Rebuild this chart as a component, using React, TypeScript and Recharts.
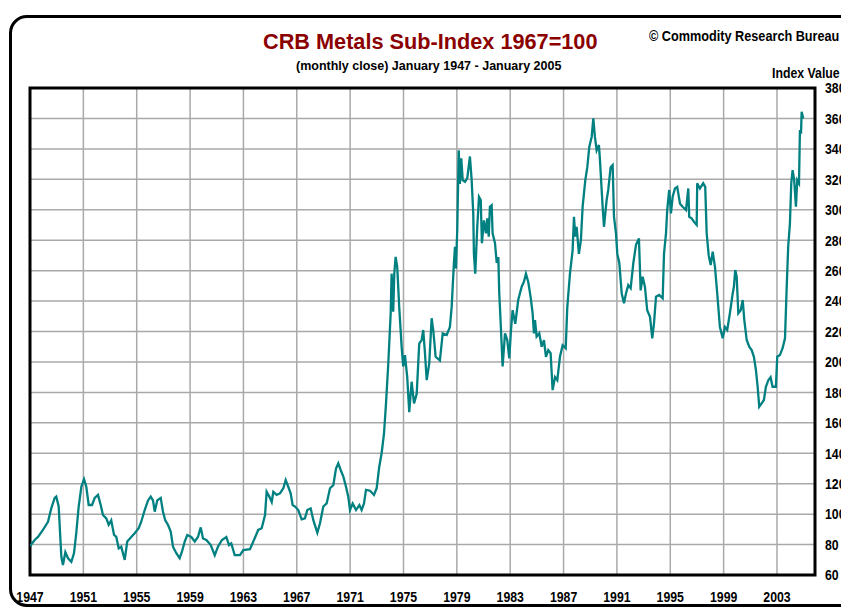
import { LineChart, Line, XAxis, YAxis, CartesianGrid, ReferenceArea } from 'recharts';

// monthly close (decimal year -> index value, 1967=100)
const years = [
  1947.0, 1947.35, 1947.6, 1947.97, 1948.35, 1948.6, 1948.85, 1948.97, 1949.15, 1949.35, 1949.47, 1949.65, 1949.85,
  1950.1, 1950.3, 1950.47, 1950.65, 1950.85, 1951.05, 1951.22, 1951.4, 1951.65, 1951.85, 1952.1, 1952.3, 1952.47,
  1952.72, 1952.9, 1953.09, 1953.3, 1953.47, 1953.65, 1953.84, 1954.1, 1954.29, 1954.59, 1954.85, 1955.15, 1955.34,
  1955.6, 1955.85, 1956.05, 1956.22, 1956.35, 1956.54, 1956.8, 1956.97, 1957.14, 1957.34, 1957.55, 1957.72, 1957.97,
  1958.22, 1958.39, 1958.6, 1958.79, 1959.09, 1959.35, 1959.59, 1959.8, 1959.97, 1960.22, 1960.55, 1960.85, 1961.09,
  1961.39, 1961.72, 1961.92, 1962.09, 1962.35, 1962.74, 1962.99, 1963.49, 1963.74, 1964.11, 1964.37, 1964.62, 1964.74,
  1964.94, 1965.12, 1965.24, 1965.49, 1965.74, 1965.99, 1966.17, 1966.36, 1966.54, 1966.69, 1966.87, 1967.11, 1967.37,
  1967.61, 1967.79, 1968.04, 1968.24, 1968.54, 1968.74, 1968.99, 1969.24, 1969.49, 1969.74, 1969.94, 1970.11, 1970.29,
  1970.49, 1970.69, 1970.86, 1970.99, 1971.19, 1971.44, 1971.69, 1971.86, 1972.04, 1972.19, 1972.49, 1972.79, 1972.99,
  1973.18, 1973.36, 1973.54, 1973.69, 1973.86, 1974.04, 1974.11, 1974.23, 1974.31, 1974.41, 1974.53, 1974.68, 1974.86,
  1974.98, 1975.11, 1975.28, 1975.43, 1975.61, 1975.79, 1975.99, 1976.18, 1976.36, 1976.48, 1976.61, 1976.74, 1976.93,
  1977.11, 1977.23, 1977.41, 1977.73, 1977.94, 1978.24, 1978.48, 1978.61, 1978.78, 1978.86, 1978.93, 1979.03, 1979.14,
  1979.23, 1979.33, 1979.44, 1979.61, 1979.78, 1979.98, 1980.11, 1980.23, 1980.28, 1980.38, 1980.53, 1980.66, 1980.79,
  1980.88, 1981.03, 1981.18, 1981.28, 1981.39, 1981.48, 1981.61, 1981.68, 1981.86, 1981.99, 1982.11, 1982.18, 1982.31,
  1982.43, 1982.61, 1982.78, 1982.93, 1983.06, 1983.18, 1983.38, 1983.6, 1983.86, 1984.03, 1984.18, 1984.35, 1984.53,
  1984.68, 1984.78, 1984.86, 1984.98, 1985.18, 1985.36, 1985.53, 1985.68, 1985.85, 1986.03, 1986.18, 1986.36, 1986.53,
  1986.73, 1986.93, 1987.16, 1987.28, 1987.48, 1987.68, 1987.78, 1987.88, 1987.98, 1988.15, 1988.3, 1988.43, 1988.63,
  1988.78, 1988.93, 1989.11, 1989.23, 1989.35, 1989.48, 1989.65, 1989.73, 1989.83, 1989.93, 1990.03, 1990.23, 1990.35,
  1990.53, 1990.68, 1990.78, 1990.93, 1991.03, 1991.18, 1991.36, 1991.53, 1991.68, 1991.85, 1992.03, 1992.23, 1992.43,
  1992.65, 1992.78, 1992.93, 1993.1, 1993.27, 1993.48, 1993.65, 1993.78, 1993.93, 1994.17, 1994.43, 1994.53, 1994.68,
  1994.77, 1994.92, 1995.05, 1995.18, 1995.35, 1995.52, 1995.73, 1995.93, 1996.18, 1996.35, 1996.42, 1996.6, 1996.78,
  1996.98, 1997.02, 1997.22, 1997.47, 1997.62, 1997.73, 1997.88, 1998.03, 1998.18, 1998.35, 1998.52, 1998.72, 1998.93,
  1999.1, 1999.27, 1999.47, 1999.68, 1999.77, 1999.87, 1999.98, 2000.1, 2000.28, 2000.43, 2000.55, 2000.73, 2000.92,
  2001.1, 2001.27, 2001.42, 2001.55, 2001.67, 2001.85, 2002.02, 2002.17, 2002.35, 2002.52, 2002.67, 2002.92, 2003.02,
  2003.22, 2003.42, 2003.6, 2003.72, 2003.84, 2003.97, 2004.07, 2004.17, 2004.29, 2004.42, 2004.52, 2004.65, 2004.72,
  2004.8, 2004.85, 2004.97,
];

const closes = [
  79, 83, 85, 89.6, 95, 104, 110.6, 111.5, 105, 72, 66.6, 75, 71,
  68.7, 74.4, 87.6, 105, 118, 123, 118, 106, 106, 110.6, 112.6, 106, 99.4,
  97.2, 93, 96, 86.3, 85, 77.5, 78.6, 69.9, 82, 85, 87.4, 90.7, 95,
  102.7, 109, 111.5, 109, 101.6, 109, 110.6, 101.6, 96, 93, 88.5, 78.6, 74.3,
  71, 75.3, 82, 86.3, 85, 82, 85, 91.3, 84, 83, 79.7, 73, 78.6,
  83, 85, 79.7, 80.8, 73, 73, 76.4, 77, 82, 89.6, 90.7, 99.4, 114.7,
  111.5, 108, 114.7, 112.6, 113.7, 117, 122.4, 118, 113.7, 106, 105, 102.7, 96.6,
  97.2, 102.7, 103.8, 96, 87.8, 94, 105, 107, 117, 119, 130, 133.4, 129,
  124.6, 118, 111.5, 102.7, 107, 102.7, 106, 102.7, 107, 116, 115.4, 112.6, 117,
  131, 140, 153, 172.8, 199, 232, 258, 233, 258, 269, 262.5, 236, 210,
  197, 204.5, 190, 167, 187, 172.8, 179, 212, 214.4, 221, 205.7, 188, 199,
  228.7, 221, 203.4, 201, 218.8, 217.7, 223, 236, 265, 275.7, 261.5, 286.7, 339,
  317, 333.8, 319.5, 318.4, 320.6, 335, 319.5, 297.6, 271, 258, 288.8, 308.5, 306.4,
  278, 293, 284.5, 294.4, 282.3, 302, 303, 284.5, 278, 265, 269, 245, 221,
  197, 218.8, 214.4, 202.4, 221, 234, 225, 240.7, 249.4, 252.7, 258, 252.7, 242.8,
  232, 218.8, 227.5, 216.6, 218.8, 210, 214.4, 203.4, 207.8, 205.7, 181.5, 190, 188,
  203.4, 211, 209, 236, 258, 273.5, 295.4, 282.3, 288.8, 271, 280, 302, 319.5,
  328, 341.4, 348, 360, 348, 339, 342.5, 332.6, 317, 302, 288.8, 306.4, 313,
  328, 329.4, 295.4, 284.5, 271, 265, 245, 238.5, 245, 250.5, 248.4, 265, 277,
  281.2, 247, 256, 249.4, 234, 229.7, 215.5, 225.4, 242.8, 244, 241.8, 271, 284.5,
  299.8, 313, 297.6, 308.5, 314, 315, 304, 302, 299.8, 314, 295.4, 294.4, 292,
  290, 317.4, 314, 317.4, 315, 284.5, 270, 263.7, 272.4, 262.5, 245, 223, 215.5,
  223, 221, 232, 245, 249.4, 260.4, 256, 232, 234, 240.7, 227.5, 214.4, 210,
  207.8, 203.4, 194.7, 183.7, 170.6, 172.8, 175, 183.7, 188, 190, 183.7, 183.7, 203.4,
  204.5, 209, 215.5, 247, 275.7, 291, 317.4, 326, 319.5, 302, 319.5, 317.4, 352.4,
  350, 364.4, 360,
];

const yearTicks = [1947, 1951, 1955, 1959, 1963, 1967, 1971, 1975, 1979, 1983, 1987, 1991, 1995, 1999, 2003];
const valueTicks = [60, 80, 100, 120, 140, 160, 180, 200, 220, 240, 260, 280, 300, 320, 340, 360, 380];

const rows = years.map((y, i) => ({ year: y, value: closes[i] }));

const sans = "'Liberation Sans', Arial, sans-serif";
// the original labels are a condensed bold face; squeeze Liberation Sans Bold to match
const squeeze = 'scale(0.82,1)';

const YearTick = ({ x, y, payload }: any) => (
  <text transform={`translate(${x},${y}) ${squeeze}`} textAnchor="middle" dy="0.71em"
    fontFamily={sans} fontWeight={700} fontSize={15} fill="#000">
    {payload.value}
  </text>
);

const ValueTick = ({ x, y, payload }: any) => (
  <text transform={`translate(${x},${y}) ${squeeze}`} textAnchor="start" dy="0.355em"
    fontFamily={sans} fontWeight={700} fontSize={15} fill="#000">
    {payload.value}
  </text>
);

const narrowLabel = {
  position: 'absolute' as const, fontFamily: sans, fontWeight: 700, fontSize: 15, lineHeight: '15px',
  color: '#000', whiteSpace: 'nowrap' as const, transform: 'scaleX(0.82)', transformOrigin: 'left top',
};

export default function App() {
  return (
    <div style={{ position: 'absolute', left: 0, top: 0, width: 841, height: 608, overflow: 'hidden', background: '#fff' }}>
      <div
        style={{
          position: 'absolute', left: 9, top: 15, width: 850, height: 592, boxSizing: 'border-box',
          border: '3px solid #000', borderRadius: 18,
        }}
      />
      <div style={{ position: 'absolute', left: 263, top: 31, fontFamily: sans, fontWeight: 700, fontSize: 21.7, lineHeight: '22px', color: '#8b0000', whiteSpace: 'nowrap' }}>
        CRB Metals Sub-Index 1967=100
      </div>
      <div style={{ position: 'absolute', left: 296, top: 59.5, fontFamily: sans, fontWeight: 700, fontSize: 12.5, lineHeight: '12.5px', color: '#000', whiteSpace: 'nowrap' }}>
        (monthly close) January 1947 - January 2005
      </div>
      <div style={{ ...narrowLabel, left: 649, top: 27.5, transform: 'scaleX(0.845)' }}>© Commodity Research Bureau</div>
      <div style={{ ...narrowLabel, left: 772, top: 64.7 }}>Index Value</div>
      <div style={{ position: 'absolute', left: 0, top: 0 }}>
        <LineChart width={841} height={608} data={rows} margin={{ top: 88, right: 0, bottom: 0, left: 30 }}>
          <CartesianGrid stroke="#a9a9a9" strokeWidth={1.5} />
          <XAxis
            dataKey="year" type="number" domain={[1947, 2005.85]} ticks={yearTicks} allowDataOverflow
            height={33} tickSize={0} tickMargin={16} tickLine={false} axisLine={false} tick={<YearTick />}
            interval={0}
          />
          <YAxis
            orientation="right" type="number" domain={[60, 380]} ticks={valueTicks} allowDataOverflow
            width={26} tickSize={0} tickMargin={10} tickLine={false} axisLine={false} tick={<ValueTick />}
            interval={0}
          />
          <ReferenceArea x1={1947} x2={2005.85} y1={60} y2={380} fill="none" stroke="#000" strokeWidth={3} ifOverflow="visible" />
          <Line type="linear" dataKey="value" stroke="#008080" strokeWidth={2.3} dot={false} isAnimationActive={false} />
        </LineChart>
      </div>
    </div>
  );
}
